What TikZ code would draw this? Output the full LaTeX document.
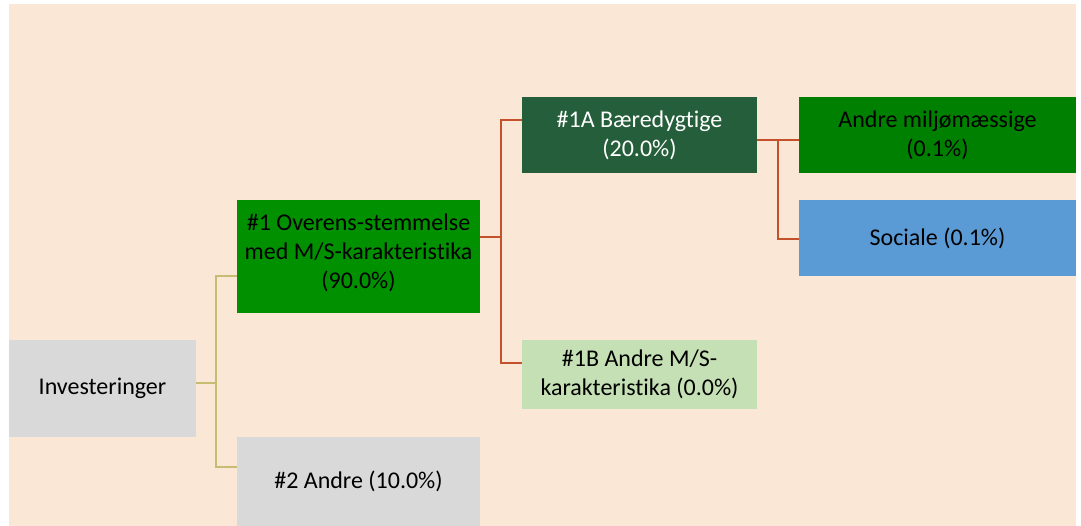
\documentclass[tikz,border=0pt]{standalone}
\usepackage{fontspec}
\setmainfont[Ligatures=NoCommon]{Carlito}
\definecolor{bgbeige}{RGB}{250,231,214}
\definecolor{boxgray}{RGB}{217,217,217}
\definecolor{greenA}{RGB}{0,144,0}
\definecolor{greenB}{RGB}{0,128,0}
\definecolor{darkgreen}{RGB}{37,94,58}
\definecolor{palegreen}{RGB}{197,224,180}
\definecolor{skyblue}{RGB}{91,155,213}
\definecolor{tanline}{RGB}{200,188,114}
\definecolor{rustline}{RGB}{197,80,44}

\begin{document}
\begin{tikzpicture}[x=1pt,y=-1pt,
  box/.style={rectangle, inner sep=0pt, align=center,
    font=\fontsize{24}{29}\selectfont},
  tanlink/.style={draw=tanline, line width=2.5pt},
  rustlink/.style={draw=rustline, line width=2.6pt}]
\useasboundingbox (0,0) rectangle (1081,526);
\fill[bgbeige] (9,4) rectangle (1076,526);

\node[box, fill=boxgray, minimum width=187pt, minimum height=97pt] (inv) at (102.5,388.5) {Investeringer};
\node[box, fill=greenA, minimum width=243pt, minimum height=113pt] (mc) at (358.5,256.5) {\#1 Overens-stemmelse\\med M/S-karakteristika\\(90.0\%)\\[-19pt]};
\node[box, fill=boxgray, minimum width=243pt, minimum height=89pt] (oth) at (358.5,481.5) {\#2 Andre (10.0\%)};
\node[box, fill=darkgreen, text=white, minimum width=235pt, minimum height=76pt] (sus) at (639.5,135) {\#1A Bæredygtige\\(20.0\%)};
\node[box, fill=palegreen, minimum width=235pt, minimum height=69pt] (ocb) at (639.5,374.5) {\#1B Andre M/S-\\karakteristika (0.0\%)};
\node[box, fill=greenB, minimum width=277pt, minimum height=76pt] (env) at (937.5,135) {Andre miljømæssige\\(0.1\%)};
\node[box, fill=skyblue, minimum width=277pt, minimum height=76pt] (soc) at (937.5,238) {Sociale (0.1\%)};

\coordinate (t1) at (216,383);
\coordinate (t2) at (216,276);
\coordinate (t3) at (216,467);
\coordinate (r1) at (501,237);
\coordinate (r2) at (501,120);
\coordinate (r3) at (501,363);
\coordinate (s1) at (778,140);
\coordinate (s2) at (778,239);

\draw[tanlink] (inv.east |- t1) -- (t1);
\draw[tanlink] (mc.west |- t2) -| (t3) -- (oth.west |- t3);
\draw[rustlink] (mc.east |- r1) -- (r1);
\draw[rustlink] (sus.west |- r2) -| (r3) -- (ocb.west |- r3);
\draw[rustlink] (sus.east |- s1) -- (env.west |- s1);
\draw[rustlink] (s1) |- (soc.west |- s2);
\end{tikzpicture}
\end{document}
